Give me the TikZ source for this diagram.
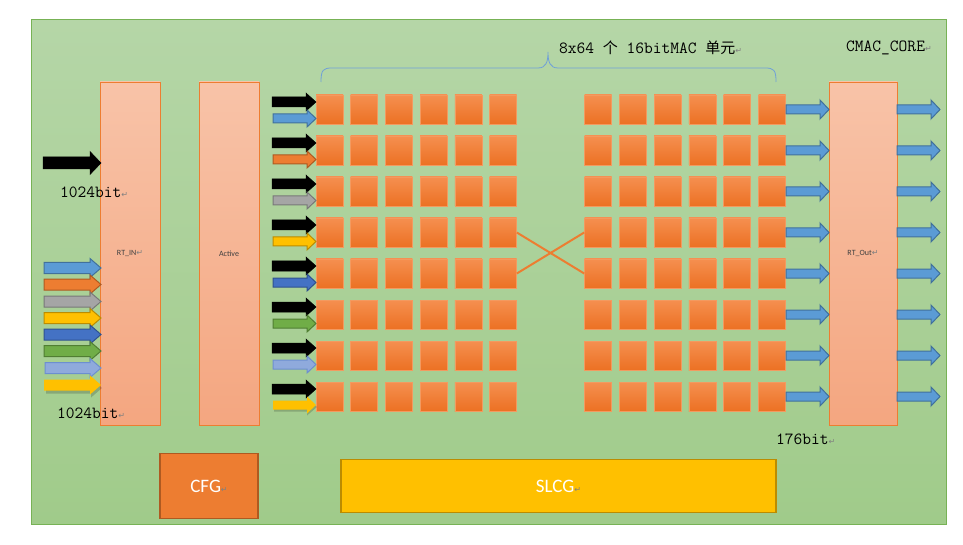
\documentclass[tikz,border=0pt]{standalone}
\usepackage{fontspec}
\newfontfamily\cjk{Noto Sans CJK SC}
\newfontfamily\calib{Carlito}
\newfontfamily\symf{DejaVu Sans}
\usetikzlibrary{calc}
\definecolor{bgtop}{HTML}{B5D6A7}
\definecolor{bgbot}{HTML}{A0CB8A}
\definecolor{bgline}{HTML}{77B255}
\definecolor{saltop}{HTML}{F8C3A8}
\definecolor{salbot}{HTML}{F4A680}
\definecolor{orline}{HTML}{ED7D31}
\definecolor{sqtop}{HTML}{F58F50}
\definecolor{sqbot}{HTML}{EC7123}
\definecolor{sqline}{HTML}{F39A60}
\definecolor{cblue}{HTML}{5B9BD5}\definecolor{lblue}{HTML}{41719C}
\definecolor{corange}{HTML}{ED7D31}\definecolor{lorange}{HTML}{AE5A21}
\definecolor{cgray}{HTML}{A5A5A5}\definecolor{lgray}{HTML}{787878}
\definecolor{cgold}{HTML}{FFC000}\definecolor{lgold}{HTML}{BC8C00}
\definecolor{cdblue}{HTML}{4472C4}\definecolor{ldblue}{HTML}{2F528F}
\definecolor{cgreen}{HTML}{70AD47}\definecolor{lgreen}{HTML}{507E32}
\definecolor{clblue}{HTML}{8FAADC}\definecolor{llblue}{HTML}{6C8FD0}
\definecolor{bracec}{HTML}{6FA0D8}
\newcommand{\blockarrow}[7]{%
  \draw[#7] (#1,#4-#5) -- (#2,#4-#5) -- (#2,#4-#6) -- (#3,#4) -- (#2,#4+#6) -- (#2,#4+#5) -- (#1,#4+#5) -- cycle;}
\newcommand{\rmk}{{\color{gray}\symf\fontsize{8}{8}\selectfont ↵}}
\begin{document}
\begin{tikzpicture}[x=1pt,y=-1pt,
  bigbox/.style={draw=orline,line width=0.8pt,shading=axis,top color=saltop,bottom color=salbot,inner sep=0pt,minimum width=60pt,minimum height=343pt,font=\calib\fontsize{8}{8}\selectfont,text=black!75},
  sq/.style={draw=sqline,line width=0.6pt,shading=axis,top color=sqtop,bottom color=sqbot,inner sep=0pt,minimum width=27pt,minimum height=29pt},
  monotxt/.style={font=\ttfamily\fontsize{17}{17}\selectfont,inner sep=0pt,anchor=west},
  blk/.style={fill=black,draw=black,line width=0.5pt},
  bluearr/.style={fill=cblue,draw=lblue,line width=1pt}]
\useasboundingbox (0,0) rectangle (963,545);
\fill[white] (0,0) rectangle (963,545);
% background
\node[draw=bgline,line width=1pt,shading=axis,top color=bgtop,bottom color=bgbot,inner sep=0pt,minimum width=915pt,minimum height=504pt] (bg) at (488.5,272) {};
% big boxes
\node[bigbox] (rtin) at (130,253.5) {RT\_IN\rmk};
\node[bigbox] (act) at (229,253.5) {Active};
\node[bigbox,minimum width=68pt] (rtout) at (863,253.5) {RT\_Out\rmk};
% squares
\foreach \i in {1,...,8}{
  \foreach \j in {1,...,6}{
    \node[sq] (L\i\j) at ({329.5+34.7*(\j-1)},{109.5+41*(\i-1)}) {};
    \node[sq] (R\i\j) at ({598+34.8*(\j-1)},{109.5+41*(\i-1)}) {};
  }
}
% crossing
\draw[orline,line width=2pt] (L46.east) -- (R51.west);
\draw[orline,line width=2pt] (L56.east) -- (R41.west);
% brace
\draw[bracec,line width=0.8pt] (321,82) .. controls (321,70) and (323,68) .. (332,68) -- (538,68) .. controls (546,68) and (548,62) .. (548,52)
  .. controls (548,62) and (550,68) .. (558,68) -- (765,68) .. controls (774,68) and (776,70) .. (776,82);
\node[inner sep=0pt,anchor=west] (title) at (559,48) {\ttfamily\fontsize{17}{17}\selectfont 8x64 {\cjk\fontsize{15}{15}\selectfont 个} 16bitMAC {\cjk\fontsize{15}{15}\selectfont 单元}\rmk};
\node[monotxt] (core) at (846,48) {CMAC\_CORE\rmk};
\node[monotxt] (t1) at (60,192) {1024bit\rmk};
\node[monotxt] (t2) at (57,413) {1024bit\rmk};
\node[monotxt] (t3) at (776,439) {176bit\rmk};
% left input arrows
\blockarrow{43}{90}{101}{163}{6}{11.5}{blk}
\blockarrow{44}{90}{101}{268}{5.5}{9.5}{fill=cblue,draw=lblue,line width=1pt}
\blockarrow{44}{90}{101}{284.5}{5.5}{9.5}{fill=corange,draw=lorange,line width=1pt}
\blockarrow{44}{90}{101}{301.5}{5.5}{9.5}{fill=cgray,draw=lgray,line width=1pt}
\blockarrow{44}{90}{101}{318}{5.5}{9.5}{fill=cgold,draw=lgold,line width=1pt}
\blockarrow{44}{90}{101}{334.5}{5.5}{9.5}{fill=cdblue,draw=ldblue,line width=1pt}
\blockarrow{44}{90}{101}{351}{5.5}{9.5}{fill=cgreen,draw=lgreen,line width=1pt}
\blockarrow{45}{90}{101}{368}{5.5}{9.5}{fill=clblue,draw=llblue,line width=1pt}
\blockarrow{46}{91}{102}{388}{5.5}{9.5}{fill=black,opacity=0.18,draw=none}
\blockarrow{44}{90}{101}{385}{5.5}{9.5}{fill=cgold,draw=none}
% arrows into the grid
\foreach \i/\fc/\lc in {1/cblue/lblue,2/corange/lorange,3/cgray/lgray,4/cgold/lgold,5/cdblue/ldblue,6/cgreen/lgreen,7/clblue/llblue}{
  \pgfmathsetmacro{\yb}{102+41*(\i-1)}
  \pgfmathsetmacro{\yc}{118.5+41*(\i-1)}
  \blockarrow{272}{306}{316}{\yb}{5}{9}{blk}
  \blockarrow{273}{307}{316}{\yc}{4.5}{8.5}{fill=\fc,draw=\lc,line width=1pt}
}
\blockarrow{272}{306}{316}{389}{5}{9}{blk}
\blockarrow{274}{307}{317}{407}{4.5}{8.5}{fill=black,opacity=0.18,draw=none}
\blockarrow{273}{307}{316}{405}{4.5}{8.5}{fill=cgold,draw=none}
% output arrows
\foreach \i in {1,...,8}{
  \pgfmathsetmacro{\yr}{109.5+41*(\i-1)}
  \blockarrow{786}{820}{829}{\yr}{4.5}{9.5}{bluearr}
  \blockarrow{897}{931}{940}{\yr}{4.5}{9.5}{bluearr}
}
% bottom blocks
\node[draw=lorange,line width=1.5pt,fill=corange,inner sep=0pt,minimum width=98pt,minimum height=65pt,font=\calib\fontsize{19}{19}\selectfont,text=white] (cfg) at (209,486) {CFG\rmk};
\node[draw=lgold,line width=1.5pt,fill=cgold,inner sep=0pt,minimum width=435pt,minimum height=53pt,font=\calib\fontsize{19}{19}\selectfont,text=white] (slcg) at (558.5,486) {SLCG\rmk};
\end{tikzpicture}
\end{document}
